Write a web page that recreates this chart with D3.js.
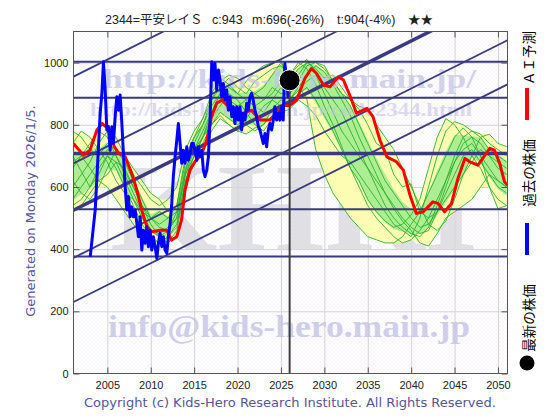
<!DOCTYPE html>
<html>
<head>
<meta charset="utf-8">
<script src="https://cdn.jsdelivr.net/npm/d3@7"></script>
<style>
  body { margin: 0; background: #fff; }
  svg { font-family: "Liberation Sans", "Noto Sans CJK JP", sans-serif; }
</style>
</head>
<body>
<div id="chart"></div>
<script>

// ---- chart values ----
var titleCode = "2344=平安レイＳ";
var titleStats = ["c:943", "m:696(-26%)", "t:904(-4%)", "★★"];
var generatedLabel = "Generated on Monday 2026/1/5.";
var copyright = "Copyright (c) Kids-Hero Research Institute. All Rights Reserved.";
var legendLabels = ["ＡＩ予測", "過去の株価", "最新の株価"];

var yearTicks = [2005, 2010, 2015, 2020, 2025, 2030, 2035, 2040, 2045, 2050];
var priceTicks = [0, 200, 400, 600, 800, 1000];

var nowYear = 2026.0;
var nowPrice = 943;

// horizontal support / resistance levels (third one is the thick one)
var levelValues = [1003, 887, 708, 528, 376];
var levelThick  = [false, false, true, false, false];

// parallel trend channel: value at left edge (2001.1) and right edge (2051.1)
var trendStart = [955, 676, 525, 372, 230];
var trendEnd   = [1655, 1376, 1225, 1072, 930];
var trendThick = [false, false, true, false, false];

// AI forecast (red)
var aiYears = [2001.1,2002.25,2003.0,2003.8,2004.4,2005.0,2005.8,2006.3,2007.05,2007.8,2008.4,2008.95,2009.55,2010.1,2011.1,2011.85,2012.4,2013.0,2013.55,2013.95,2014.5,2015.1,2015.9,2016.45,2017.0,2017.6,2018.2,2018.95,2019.5,2020.7,2021.6,2022.6,2023.7,2024.5,2025.25,2026.0,2026.8,2027.75,2028.5,2029.1,2029.9,2030.65,2031.6,2032.2,2033.0,2033.7,2034.9,2035.6,2036.4,2037.2,2038.3,2039.1,2039.85,2040.6,2041.4,2042.5,2043.1,2043.85,2044.65,2045.4,2046.2,2046.75,2047.7,2048.5,2049.05,2049.6,2050.2,2050.75,2051.1];
var aiValues = [740,702,718,783,804,790,730,708,697,644,590,526,472,456,461,461,429,440,494,590,654,681,708,751,826,869,880,858,837,837,847,815,815,837,863,862,879,949,981,965,928,922,954,944,890,837,853,826,751,697,681,654,575,515,520,552,547,520,547,628,692,681,670,702,724,718,676,617,606];

// past stock price (blue)
var pastYears = [2003.03,2003.6,2003.98,2004.17,2004.37,2004.55,2004.75,2004.94,2005.13,2005.32,2005.52,2005.7,2005.9,2006.09,2006.28,2006.47,2006.67,2006.85,2007.05,2007.24,2007.43,2007.62,2007.82,2008.0,2008.2,2008.4,2008.58,2008.78,2008.97,2009.16,2009.35,2009.55,2009.73,2009.93,2010.12,2010.3,2010.5,2010.7,2010.88,2011.08,2011.27,2011.46,2011.65,2011.85,2012.03,2012.23,2012.42,2012.6,2012.8,2013.0,2013.18,2013.38,2013.57,2013.76,2013.95,2014.15,2014.33,2014.53,2014.72,2014.9,2015.1,2015.3,2015.48,2015.68,2015.88,2016.06,2016.25,2016.45,2016.64,2016.83,2017.03,2017.2,2017.4,2017.6,2017.8,2017.98,2018.17,2018.36,2018.55,2018.75,2018.94,2019.13,2019.33,2019.51,2019.7,2019.9,2020.09,2020.28,2020.47,2020.66,2020.86,2021.05,2021.24,2021.43,2021.62,2021.8,2022.0,2022.2,2022.4,2022.58,2022.78,2022.96,2023.16,2023.35,2023.54,2023.73,2023.93,2024.12,2024.3,2024.5,2024.7,2024.88,2025.07,2025.26,2025.45,2025.65,2025.83,2026.0];
var pastValues = [376,526,729,837,901,1003,912,783,794,718,794,740,826,890,847,896,804,708,601,526,569,504,536,504,526,483,440,504,397,461,419,472,408,461,397,440,408,370,419,451,408,440,397,387,440,483,547,633,697,751,804,740,676,718,676,729,686,708,740,740,718,686,729,697,718,654,633,654,697,815,1003,944,997,912,976,944,890,933,880,912,847,890,826,858,804,858,815,858,783,837,815,869,847,890,901,880,847,826,794,783,761,740,772,729,783,804,783,815,858,815,837,815,858,815,997,944,890,943];

// analog paths (green), one value per year 2001..2051
var pathYears = d3.range(2001, 2052);
var pathA = [700,650,600,640,700,660,600,540,480,440,420,440,480,620,700,760,820,860,900,880,840,800,780,820,860, 900,930,880,720,640,580,540,500,470,440,430,420,420,440,480,520,580,640,700,760,790,760,700,660,620,600];
var pathB = [780,760,720,700,740,720,680,620,560,500,470,460,500,650,740,800,880,920,950,920,900,940,960,980,990, 960,1000,980,930,860,800,730,660,600,540,500,470,440,420,430,460,500,560,620,680,720,740,700,600,560,540];
var pathC = [560,600,640,680,720,700,650,600,540,480,440,420,460,600,680,720,780,820,800,780,800,820,860,880,860, 880,920,960,990,970,930,880,830,760,700,640,580,530,490,460,420,410,450,500,520,540,560,600,640,620,600];
var pathD = [620,580,560,600,660,720,700,660,620,580,560,520,540,680,760,820,900,950,930,900,940,970,990,1000,1010, 920,960,1000,980,950,960,920,880,860,850,800,760,720,660,600,540,480,460,490,560,640,700,760,770,740,730];
var pathE = [520,540,580,620,600,560,520,480,450,430,420,440,470,620,680,740,800,830,800,780,770,790,800,830,840, 850,880,860,830,780,740,700,680,640,600,560,520,480,460,440,500,600,700,780,810,800,780,760,720,700,680];
var pathF = [740,780,760,720,680,620,580,560,520,500,520,500,540,700,760,800,860,900,880,860,880,900,880,920,900, 900,940,990,1000,990,940,900,860,800,740,680,620,580,540,500,470,480,520,580,640,700,720,680,640,600,580];
var pathG = [660,700,740,780,760,700,640,580,520,460,440,460,520,640,720,780,840,880,860,820,800,780,800,850,880, 870,900,920,880,830,780,720,660,620,560,520,490,470,480,510,560,660,760,820,800,760,700,660,600,530,540];
var pathH = [600,640,680,740,780,760,700,640,600,560,540,560,600,720,780,820,880,940,960,950,920,900,920,960,1000, 940,980,1000,1000,980,940,900,880,850,800,740,720,640,600,610,520,500,520,560,600,640,680,720,700,680,660];
var pathI = [680,700,660,620,640,680,660,600,540,500,480,500,520,660,720,760,840,900,920,900,880,860,840,880,920, 880,910,940,960,900,840,780,740,700,660,620,580,540,500,470,450,460,520,600,680,740,760,740,700,660,640];
var pathJ = [540,560,600,660,700,680,620,560,500,460,450,470,500,640,700,760,800,840,820,800,820,860,880,900,940, 960,990,1010,970,920,880,840,780,720,660,600,540,500,470,450,440,470,540,620,700,760,780,770,740,720,700];
var analogPaths = [pathA, pathB, pathC, pathD, pathE, pathF, pathG, pathH, pathI, pathJ];


function setup() {

    // set the dimensions and margins of the graph
    var margin = {top: 31.5, right: 52.5, bottom: 46.5, left: 73.5},
        width = 560 - margin.left - margin.right,
        height = 420 - margin.top - margin.bottom;

    // set the ranges
    var x = d3.scaleLinear()
            .domain([2001.1, 2051.1])
            .range([0, width]);
    var y = d3.scaleLinear()
            .domain([0, 1100])
            .range([height, 0]);

    var root = d3.select("#chart").append("svg")
        .attr("width", 560)
        .attr("height", 420);

    var defs = root.append("defs");
    defs.append("clipPath").attr("id", "plotClip")
      .append("rect").attr("width", width).attr("height", height);

    // stippled backgrounds
    function stipple(id, c1, c2) {
        var p = defs.append("pattern").attr("id", id)
            .attr("width", 4).attr("height", 4)
            .attr("patternUnits", "userSpaceOnUse");
        p.append("rect").attr("width", 4).attr("height", 4).attr("fill", "#ffffff");
        p.append("rect").attr("x", 0).attr("y", 0).attr("width", 1).attr("height", 1).attr("fill", c1);
        p.append("rect").attr("x", 2).attr("y", 2).attr("width", 1).attr("height", 1).attr("fill", c2);
    }
    stipple("bgPast", "#dcf2f6", "#f2e2f2");
    stipple("bgFuture", "#f6dcf0", "#e8e4f2");

    var svg = root.append("g")
        .attr("transform", "translate(" + margin.left + "," + margin.top + ")");

    svg.append("rect")
        .attr("width", x(nowYear)).attr("height", height)
        .attr("fill", "url(#bgPast)");
    svg.append("rect")
        .attr("x", x(nowYear))
        .attr("width", width - x(nowYear)).attr("height", height)
        .attr("fill", "url(#bgFuture)");

    // light grid
    svg.append("g")
        .attr("class", "grid")
        .attr("transform", "translate(0," + height + ")")
        .call(d3.axisBottom(x).tickValues(yearTicks).tickSize(-height).tickFormat(""));
    svg.append("g")
        .attr("class", "grid")
        .call(d3.axisLeft(y).tickValues(priceTicks.slice(1)).tickSize(-width).tickFormat(""));
    svg.selectAll(".grid .domain").remove();
    svg.selectAll(".grid line").attr("stroke", "#d4d4d4").attr("stroke-width", 1);

    var plot = svg.append("g").attr("clip-path", "url(#plotClip)");

    // big watermark letters
    plot.append("text")
        .attr("x", 110 - margin.left).attr("y", 250 - margin.top)
        .attr("textLength", 368).attr("lengthAdjust", "spacingAndGlyphs")
        .style("font-family", "'Liberation Serif', 'DejaVu Serif', serif")
        .style("font-weight", "bold")
        .style("font-size", "125px")
        .attr("fill", "#d6d6dc").attr("opacity", 0.75)
        .text("KHRI");

    // envelope of the analog paths
    var bandRows = pathYears.map(function(yr, i) {
        var vals = analogPaths.map(function(p) { return p[i]; }).sort(d3.ascending);
        return {year: yr, lo: vals[0], hi: vals[vals.length - 1],
                q1: d3.quantile(vals, 0.2), q3: d3.quantile(vals, 0.8)};
    });

    plot.append("path")
        .datum(bandRows)
        .attr("fill", "#fdfdb4")
        .attr("d", d3.area()
            .x(function(d) { return x(d.year); })
            .y0(function(d) { return y(d.lo); })
            .y1(function(d) { return y(d.hi); }));
    plot.append("path")
        .datum(bandRows)
        .attr("fill", "#acef92")
        .attr("d", d3.area()
            .x(function(d) { return x(d.year); })
            .y0(function(d) { return y(d.q1); })
            .y1(function(d) { return y(d.q3); }));

    var pathLine = d3.line()
        .x(function(d) { return x(d[0]); })
        .y(function(d) { return y(d[1]); });

    analogPaths.forEach(function(p) {
        plot.append("path")
            .datum(d3.zip(pathYears, p))
            .attr("fill", "none")
            .attr("stroke", "#30b030")
            .attr("stroke-width", 0.9)
            .attr("d", pathLine);
    });

    // url watermarks
    function watermark(px, py, len, size, op, s) {
        plot.append("text")
            .attr("x", px - margin.left).attr("y", py - margin.top)
            .attr("textLength", len).attr("lengthAdjust", "spacingAndGlyphs")
            .style("font-family", "'Liberation Serif', 'DejaVu Serif', serif")
            .style("font-weight", "bold")
            .style("font-size", size + "px")
            .attr("fill", "#c4c4e6").attr("opacity", op)
            .text(s);
    }
    watermark(103, 88, 373, 28, 0.75, "http://kids-hero.main.jp/");
    watermark(90, 116, 382, 19, 0.6, "http://kids-hero.main.jp/code2344.html");
    watermark(108, 337, 362, 31, 0.8, "info@kids-hero.main.jp");

    // horizontal levels
    plot.selectAll(".level")
        .data(levelValues)
        .enter().append("line")
        .attr("class", "level")
        .attr("x1", 0).attr("x2", width)
        .attr("y1", function(d) { return y(d); })
        .attr("y2", function(d) { return y(d); })
        .attr("stroke", "#3a3a7e")
        .attr("stroke-width", function(d, i) { return levelThick[i] ? 3.5 : 2; });

    // trend channel
    plot.selectAll(".trend")
        .data(trendStart)
        .enter().append("line")
        .attr("class", "trend")
        .attr("x1", x(2001.1)).attr("x2", x(2051.1))
        .attr("y1", function(d) { return y(d); })
        .attr("y2", function(d, i) { return y(trendEnd[i]); })
        .attr("stroke", "#3a3a7e")
        .attr("stroke-width", function(d, i) { return trendThick[i] ? 3.5 : 1.8; });

    // now line
    svg.append("line")
        .attr("x1", x(nowYear)).attr("x2", x(nowYear))
        .attr("y1", y(nowPrice)).attr("y2", height)
        .attr("stroke", "#404040")
        .attr("stroke-width", 2);

    // AI forecast
    plot.append("path")
        .datum(d3.zip(aiYears, aiValues))
        .attr("fill", "none")
        .attr("stroke", "#ff0000")
        .attr("stroke-width", 3)
        .attr("stroke-linejoin", "round")
        .attr("d", pathLine);

    // past price
    plot.append("path")
        .datum(d3.zip(pastYears, pastValues))
        .attr("fill", "none")
        .attr("stroke", "#0000ff")
        .attr("stroke-width", 3)
        .attr("stroke-linejoin", "round")
        .attr("d", pathLine);

    // latest price
    svg.append("circle")
        .attr("cx", x(nowYear)).attr("cy", y(nowPrice))
        .attr("r", 10.5)
        .attr("fill", "#000")
        .attr("stroke", "#fff")
        .attr("stroke-width", 1);

    // frame + inward ticks (all four sides)
    svg.append("rect")
        .attr("width", width).attr("height", height)
        .attr("fill", "none").attr("stroke", "#555").attr("stroke-width", 1);

    var xAxis = svg.append("g")
        .attr("transform", "translate(0," + height + ")")
        .call(d3.axisBottom(x).tickValues(yearTicks).tickFormat(d3.format("d"))
              .tickSizeInner(-6).tickSizeOuter(0).tickPadding(8));
    svg.append("g")
        .call(d3.axisTop(x).tickValues(yearTicks).tickFormat("")
              .tickSizeInner(-6).tickSizeOuter(0));
    var yAxis = svg.append("g")
        .call(d3.axisLeft(y).tickValues(priceTicks).tickFormat(d3.format("d"))
              .tickSizeInner(-6).tickSizeOuter(0).tickPadding(5));
    svg.append("g")
        .attr("transform", "translate(" + width + ",0)")
        .call(d3.axisRight(y).tickValues(priceTicks).tickFormat("")
              .tickSizeInner(-6).tickSizeOuter(0));
    svg.selectAll(".domain").remove();
    svg.selectAll(".tick line").filter(function() { return !this.closest(".grid"); })
        .attr("stroke", "#555");
    xAxis.selectAll("text").style("font-family", "'Liberation Sans', sans-serif")
        .style("font-size", "11px").attr("fill", "#222");
    yAxis.selectAll("text").style("font-family", "'Liberation Sans', sans-serif")
        .style("font-size", "11px").attr("fill", "#222");

    // title
    var statX = [105, 212, 252, 337, 408];
    [titleCode].concat(titleStats).forEach(function(s, i) {
        root.append("text")
            .attr("x", statX[i]).attr("y", 24)
            .style("font-family", "'Liberation Sans', 'Noto Sans CJK JP', sans-serif")
            .style("font-size", "12.5px")
            .attr("fill", "#222")
            .text(s);
    });

    // side label
    root.append("text")
        .attr("transform", "translate(30,211) rotate(-90)")
        .attr("text-anchor", "middle")
        .attr("dominant-baseline", "central")
        .style("font-family", "'DejaVu Sans', sans-serif")
        .style("font-size", "13px")
        .attr("fill", "#555599")
        .text(generatedLabel);

    // copyright
    root.append("text")
        .attr("x", 290).attr("y", 407)
        .attr("text-anchor", "middle")
        .style("font-family", "'DejaVu Sans', sans-serif")
        .style("font-size", "13px")
        .attr("fill", "#555599")
        .text(copyright);

    // legend (vertical, reading bottom to top)
    var legendY = [58, 173, 318];
    legendLabels.forEach(function(s, i) {
        root.append("text")
            .attr("transform", "translate(528," + legendY[i] + ") rotate(-90)")
            .attr("text-anchor", "middle")
            .attr("dominant-baseline", "central")
            .style("font-family", "'Noto Sans CJK JP', sans-serif")
            .style("font-size", "13.5px")
            .attr("fill", "#000")
            .text(s);
    });
    root.append("line").attr("x1", 527).attr("x2", 527).attr("y1", 88).attr("y2", 120)
        .attr("stroke", "#ff0000").attr("stroke-width", 4);
    root.append("line").attr("x1", 527).attr("x2", 527).attr("y1", 223).attr("y2", 255)
        .attr("stroke", "#0000ff").attr("stroke-width", 4);
    root.append("circle").attr("cx", 527).attr("cy", 363).attr("r", 7.5).attr("fill", "#000");
}

setup();

</script>
</body>
</html>
